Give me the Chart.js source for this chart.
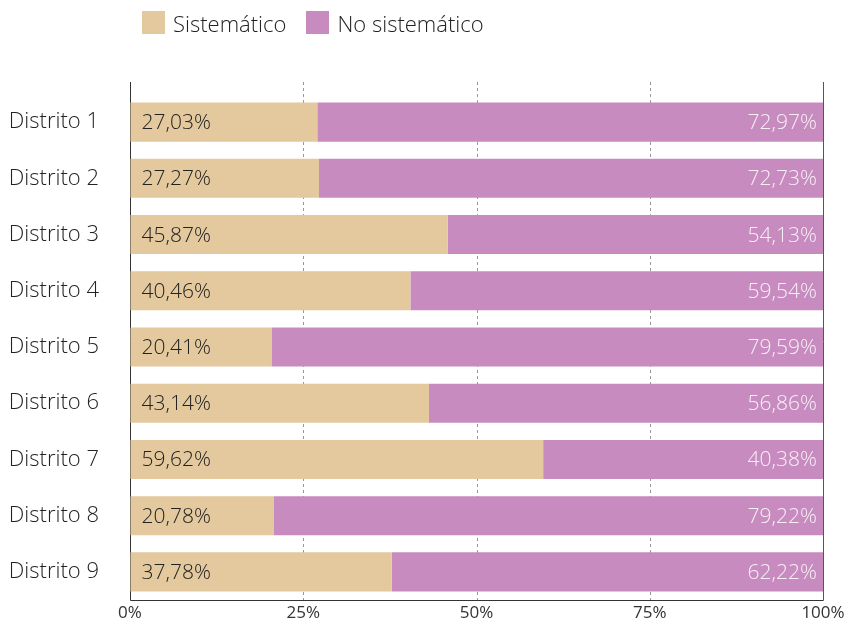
<!DOCTYPE html>
<html>
<head>
<meta charset="utf-8">
<script src="https://cdn.jsdelivr.net/npm/chart.js@4"></script>
<style>
    body { margin: 0; background: #fff; }
    #wrap { position: relative; width: 846px; height: 624px; }
    #chart { display: block; }
    #legend { position: absolute; left: 142px; top: 11px; display: flex; font-family: 'Open Sans', sans-serif; font-weight: 300; font-size: 22px; color: #222; }
    .item { display: flex; align-items: center; margin-right: 20px; height: 23px; }
    .box { width: 23px; height: 23px; margin-right: 8px; }
</style>
</head>
<body>
<div id="wrap">
    <div id="legend"></div>
    <canvas id="chart" width="846" height="624"></canvas>
</div>
<script>
const categories = ['Distrito 1', 'Distrito 2', 'Distrito 3', 'Distrito 4', 'Distrito 5', 'Distrito 6', 'Distrito 7', 'Distrito 8', 'Distrito 9'];
const sistematico = [27.03, 27.27, 45.87, 40.46, 20.41, 43.14, 59.62, 20.78, 37.78];
const noSistematico = [72.97, 72.73, 54.13, 59.54, 79.59, 56.86, 40.38, 79.22, 62.22];
const seriesNames = ['Sistemático', 'No sistemático'];
const xTicks = [0, 25, 50, 75, 100];

const colors = ['#e3c99d', '#c78bbf'];
const FONT = "'Open Sans', sans-serif";

function fmt(n) {
    return n.toFixed(2).replace('.', ',') + '%';
}

// legend
const legend = document.getElementById('legend');
seriesNames.forEach((name, i) => {
    legend.innerHTML += `<div class="item"><span class="box" style="background:${colors[i]}"></span>${name}</div>`;
});

// frame, dashed grid and value labels
const framePlugin = {
    id: 'frame',
    beforeDatasetsDraw(chart) {
        const { ctx, chartArea: a, scales: { x } } = chart;
        const top = a.top - 12;
        ctx.save();
        ctx.lineWidth = 1;
        ctx.strokeStyle = '#999';
        ctx.setLineDash([3, 3]);
        [25, 50, 75].forEach(v => {
            const px = Math.round(x.getPixelForValue(v)) + 0.5;
            ctx.beginPath();
            ctx.moveTo(px, top);
            ctx.lineTo(px, a.bottom);
            ctx.stroke();
        });
        ctx.setLineDash([]);
        ctx.strokeStyle = '#333';
        const l = Math.round(x.getPixelForValue(0)) + 0.5;
        const r = Math.round(x.getPixelForValue(100)) + 0.5;
        const b = Math.round(a.bottom) + 0.5;
        ctx.beginPath();
        ctx.moveTo(l, top);
        ctx.lineTo(l, b);
        ctx.lineTo(r, b);
        ctx.stroke();
        ctx.strokeStyle = '#555';
        ctx.beginPath();
        ctx.moveTo(r, top);
        ctx.lineTo(r, b);
        ctx.stroke();
        ctx.restore();
    },
    afterDatasetsDraw(chart) {
        const ctx = chart.ctx;
        ctx.save();
        ctx.font = `300 21px ${FONT}`;
        ctx.textBaseline = 'middle';
        chart.getDatasetMeta(0).data.forEach((bar, i) => {
            ctx.fillStyle = '#222';
            ctx.textAlign = 'left';
            ctx.fillText(fmt(sistematico[i]), bar.base + 11, bar.y + 1);
        });
        chart.getDatasetMeta(1).data.forEach((bar, i) => {
            ctx.fillStyle = '#f6f0f5';
            ctx.textAlign = 'right';
            ctx.fillText(fmt(noSistematico[i]), bar.x - 6, bar.y + 1);
        });
        ctx.restore();
    }
};

new Chart(document.getElementById('chart'), {
    type: 'bar',
    data: {
        labels: categories,
        datasets: [{
            label: seriesNames[0],
            data: sistematico,
            backgroundColor: colors[0],
        }, {
            label: seriesNames[1],
            data: noSistematico,
            backgroundColor: colors[1],
        }]
    },
    options: {
        indexAxis: 'y',
        responsive: false,
        maintainAspectRatio: false,
        animation: false,
        layout: { padding: { top: 94, right: 23, left: 0, bottom: 0 } },
        datasets: { bar: { barPercentage: 0.695, categoryPercentage: 1 } },
        plugins: { legend: { display: false }, tooltip: { enabled: false } },
        scales: {
            x: {
                stacked: true,
                min: 0,
                max: 100,
                afterBuildTicks: s => { s.ticks = xTicks.map(v => ({ value: v })); },
                afterFit: s => { s.height = 24; },
                grid: { color: 'transparent', drawOnChartArea: false, drawTicks: true, tickLength: 2 },
                border: { display: false },
                ticks: { color: '#333', padding: 1, font: { family: FONT, size: 17 }, callback: v => v + '%', maxRotation: 0 }
            },
            y: {
                stacked: true,
                afterFit: s => { s.width = 130; },
                grid: { color: 'transparent', drawOnChartArea: false, drawTicks: true, tickLength: 31 },
                border: { display: false },
                ticks: { color: '#222', padding: 0, font: { family: FONT, size: 22, weight: 300 } }
            }
        }
    },
    plugins: [framePlugin]
});
</script>
</body>
</html>
